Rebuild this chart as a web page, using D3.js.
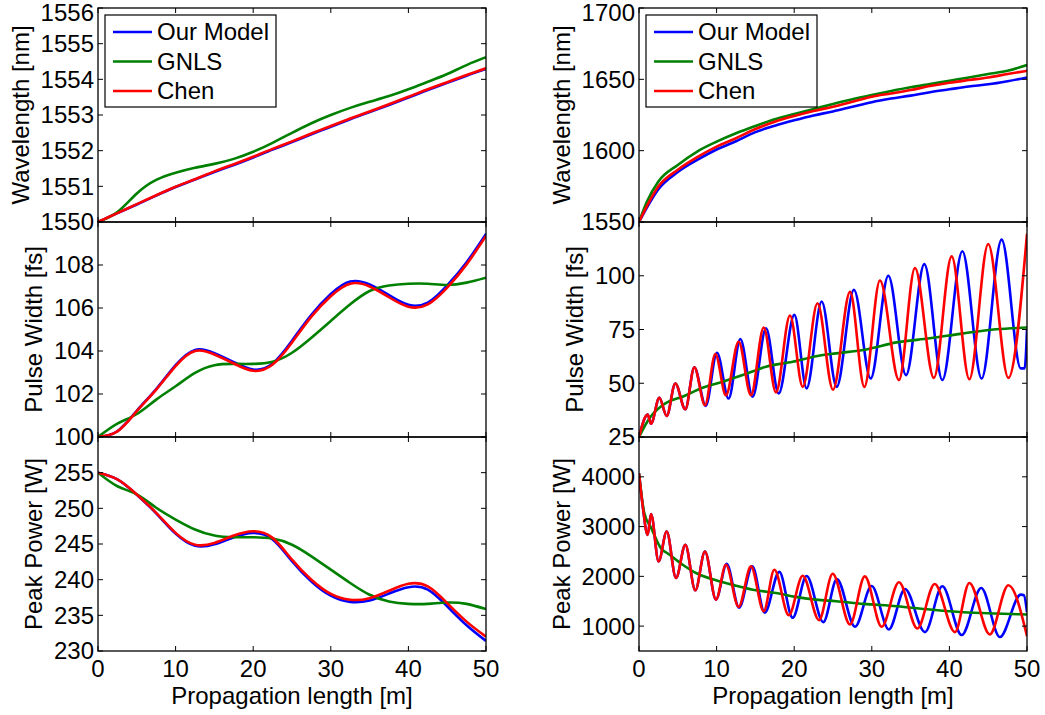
<!DOCTYPE html>
<html>
<head>
<meta charset="utf-8">
<script src="https://cdn.jsdelivr.net/npm/d3@7"></script>
<style>
  body { margin: 0; background: #fff; }
  text { font-family: "Liberation Sans", Arial, Helvetica, sans-serif; fill: #000; }
</style>
</head>
<body>
<svg id="chart" width="1045" height="715"></svg>
<script>
// ---- data ----
const seriesNames = ["Our Model", "GNLS", "Chen"];
const seriesColors = ["#0000ff", "#008000", "#ff0000"];
const xTicks = [0, 10, 20, 30, 40, 50];

// left column: sampled every 2.5 m
const xsLeft = [0, 2.5, 5, 7.5, 10, 12.5, 15, 17.5, 20, 22.5, 25, 27.5, 30, 32.5, 35, 37.5, 40, 42.5, 45, 47.5, 50];

const wlModelL = [1550, 1550.25, 1550.49, 1550.74, 1550.98, 1551.19, 1551.4, 1551.6, 1551.81, 1552.03, 1552.24, 1552.46, 1552.67, 1552.88, 1553.08, 1553.28, 1553.49, 1553.7, 1553.9, 1554.1, 1554.29];
const wlGnlsL  = [1550, 1550.28, 1550.8, 1551.18, 1551.38, 1551.52, 1551.63, 1551.77, 1551.97, 1552.22, 1552.5, 1552.77, 1553.0, 1553.2, 1553.37, 1553.53, 1553.72, 1553.93, 1554.15, 1554.4, 1554.62];
const wlChenL  = [1550, 1550.25, 1550.5, 1550.75, 1550.99, 1551.2, 1551.42, 1551.62, 1551.83, 1552.05, 1552.26, 1552.48, 1552.69, 1552.9, 1553.1, 1553.3, 1553.51, 1553.72, 1553.92, 1554.12, 1554.31];

const pwModelL = [100.0, 100.27, 101.22, 102.23, 103.34, 104.05, 103.9, 103.48, 103.14, 103.42, 104.48, 105.68, 106.65, 107.23, 107.1, 106.6, 106.15, 106.25, 107.05, 108.13, 109.45];
const pwGnlsL  = [100.0, 100.62, 101.07, 101.74, 102.36, 102.98, 103.34, 103.4, 103.4, 103.5, 103.92, 104.62, 105.4, 106.17, 106.79, 107.05, 107.13, 107.13, 107.07, 107.18, 107.41];
const pwChenL  = [100.0, 100.26, 101.2, 102.2, 103.3, 104.0, 103.84, 103.42, 103.08, 103.37, 104.4, 105.6, 106.55, 107.13, 107.0, 106.5, 106.06, 106.17, 106.95, 108.03, 109.35];

const ppModelL = [255, 254.05, 251.9, 249.3, 246.45, 244.75, 244.95, 245.95, 246.55, 245.65, 242.6, 239.75, 237.75, 236.88, 237.08, 238.05, 238.95, 238.6, 236.25, 233.6, 231.4];
const ppGnlsL  = [255, 253.1, 251.95, 250.08, 248.43, 247.03, 246.18, 245.95, 245.95, 245.76, 244.9, 243.27, 241.4, 239.53, 237.88, 236.94, 236.61, 236.61, 236.8, 236.61, 235.87];
const ppChenL  = [255, 254.06, 251.95, 249.37, 246.56, 244.9, 245.15, 246.18, 246.79, 245.86, 242.8, 239.99, 238.0, 237.18, 237.41, 238.44, 239.43, 239.05, 236.71, 234.12, 232.0];

// right column wavelength
const xsWlRight = [0, 1, 2.5, 5, 7.5, 10, 12.5, 15, 17.5, 20, 22.5, 25, 27.5, 30, 32.5, 35, 37.5, 40, 42.5, 45, 47.5, 50];
const wlModelR = [1550, 1560, 1573, 1585, 1593.5, 1600.8, 1606.6, 1613, 1617.5, 1621.3, 1624.7, 1627.5, 1630.8, 1634, 1636.5, 1638.6, 1641, 1643, 1645, 1646.5, 1648.7, 1651.3];
const wlGnlsR  = [1550, 1564, 1578.4, 1590, 1599.4, 1606.3, 1612.2, 1617.3, 1622, 1625.7, 1629.2, 1632.7, 1636, 1639, 1641.8, 1644.4, 1646.7, 1649, 1651.3, 1653.7, 1656, 1660];
const wlChenR  = [1550, 1561, 1574.9, 1586.6, 1595.4, 1602.8, 1608.7, 1615.2, 1620.3, 1624.3, 1627.8, 1630.8, 1634.3, 1637.8, 1640.1, 1642.5, 1645.3, 1647.6, 1649.5, 1651.3, 1653.7, 1656];

// right column pulse width / peak power: [length, value] at turning points
const pwModelR = [[0,25],[1.12,35.4],[1.55,31.2],[2.62,43.2],[3.57,34.8],[4.68,49.9],[5.97,37.9],[7.13,57.4],[8.6,39.5],[10.05,64.2],[11.55,42.9],[13.06,70.6],[14.65,43.7],[16.37,75.6],[18.0,45.2],[20.02,81.8],[21.6,47.6],[23.54,88.0],[25.47,48.3],[27.7,93.5],[29.85,52.2],[32.13,100],[34.41,53.8],[36.77,105.4],[39.09,51.5],[41.67,111.4],[44.15,52.2],[46.73,116.8],[49.2,56.9],[49.7,56.9],[50,75]];
const pwGnlsR  = [[0,25],[1.33,33.6],[3.05,39.8],[5.84,44.1],[8.2,47.9],[10.78,50.7],[13.36,53.8],[16.37,57.7],[19.8,60],[23.0,62.7],[25.4,63.9],[28.9,65.5],[33.2,69],[37.5,70.9],[41.8,73.2],[46.0,75.1],[50,75.9]];
const pwChenR  = [[0,25],[1.12,35.4],[1.55,31.2],[2.62,43.2],[3.57,34.8],[4.68,49.9],[5.97,37.9],[7.13,57.4],[8.5,39.8],[9.84,63.6],[11.2,44.4],[12.84,69.3],[14.43,44.4],[16.07,75.9],[17.65,45.7],[19.46,81.5],[21.1,48.3],[23.0,87.2],[25.0,47.0],[27.2,92.5],[29.04,48.3],[31.05,97.8],[33.5,51.5],[35.56,103.6],[38.0,52.5],[40.29,109.0],[42.57,51.9],[45.0,114.8],[47.6,52.5],[50,119.5]];

const ppModelR = [[0,4070],[0.45,3450],[1.12,2833],[1.55,3253],[2.53,2300],[3.57,2900],[4.77,1967],[5.97,2633],[7.26,1720],[8.5,2500],[9.92,1533],[11.3,2250],[12.9,1370],[14.6,2200],[16.2,1270],[18.08,2090],[19.8,1167],[21.6,2007],[23.75,1080],[25.5,1945],[27.84,987],[29.98,1805],[32.2,933],[34.28,1747],[36.85,880],[39.09,1800],[41.58,820],[44.1,1765],[46.5,780],[49.2,1633],[49.6,1620],[50,1280]];
const ppGnlsR  = [[0,4070],[0.69,3267],[1.55,2980],[2.84,2560],[3.8,2450],[5.63,2233],[7.35,2067],[9.92,1920],[12.5,1813],[15.08,1720],[17.65,1667],[20.2,1587],[22.8,1533],[25.4,1500],[28.9,1447],[33.2,1400],[37.5,1333],[41.8,1280],[46.0,1253],[50,1233]];
const ppChenR  = [[0,4070],[0.45,3450],[1.12,2833],[1.55,3253],[2.53,2300],[3.57,2900],[4.77,1967],[5.97,2633],[7.26,1720],[8.5,2500],[9.92,1533],[11.2,2233],[12.84,1387],[14.43,2200],[16.07,1300],[17.44,2133],[19.3,1220],[21.1,2013],[23.2,1120],[24.96,2053],[27.19,1033],[29.1,2000],[31.27,987],[33.5,1880],[35.87,953],[38.1,1847],[40.72,880],[42.57,1867],[45.2,833],[47.6,1820],[50,800]];

// ---- layout ----
const cols = [{ x0: 98, x1: 486 }, { x0: 639, x1: 1027 }];
const rows = [{ y0: 8, y1: 222 }, { y0: 222, y1: 437 }, { y0: 437, y1: 651 }];
const FONT = 24;

const panels = [
  { col: 0, row: 0, domain: [1550, 1556], ticks: [1550, 1551, 1552, 1553, 1554, 1555, 1556], label: "Wavelength [nm]",
    data: [d3.zip(xsLeft, wlModelL), d3.zip(xsLeft, wlGnlsL), d3.zip(xsLeft, wlChenL)], curve: d3.curveNatural, legend: true },
  { col: 0, row: 1, domain: [100, 110], ticks: [100, 102, 104, 106, 108], label: "Pulse Width [fs]",
    data: [d3.zip(xsLeft, pwModelL), d3.zip(xsLeft, pwGnlsL), d3.zip(xsLeft, pwChenL)], curve: d3.curveNatural },
  { col: 0, row: 2, domain: [230, 260], ticks: [230, 235, 240, 245, 250, 255], label: "Peak Power [W]",
    data: [d3.zip(xsLeft, ppModelL), d3.zip(xsLeft, ppGnlsL), d3.zip(xsLeft, ppChenL)], curve: d3.curveNatural, xLabels: true },
  { col: 1, row: 0, domain: [1550, 1700], ticks: [1550, 1600, 1650, 1700], label: "Wavelength [nm]",
    data: [d3.zip(xsWlRight, wlModelR), d3.zip(xsWlRight, wlGnlsR), d3.zip(xsWlRight, wlChenR)], curve: d3.curveMonotoneX, legend: true },
  { col: 1, row: 1, domain: [25, 125], ticks: [25, 50, 75, 100], label: "Pulse Width [fs]",
    data: [pwModelR, pwGnlsR, pwChenR], curve: d3.curveMonotoneX },
  { col: 1, row: 2, domain: [500, 4800], ticks: [1000, 2000, 3000, 4000], label: "Peak Power [W]",
    data: [ppModelR, ppGnlsR, ppChenR], curve: d3.curveMonotoneX, xLabels: true }
];

const svg = d3.select("#chart");
svg.append("rect").attr("width", 1045).attr("height", 715).attr("fill", "#fff");

panels.forEach(function (p, i) {
  const c = cols[p.col], r = rows[p.row];
  const x = d3.scaleLinear().domain([0, 50]).range([c.x0, c.x1]);
  const y = d3.scaleLinear().domain(p.domain).range([r.y1, r.y0]);

  const clipId = "clip" + i;
  svg.append("clipPath").attr("id", clipId)
    .append("rect").attr("x", c.x0).attr("y", r.y0)
    .attr("width", c.x1 - c.x0).attr("height", r.y1 - r.y0);

  const g = svg.append("g");

  // lines
  const line = d3.line().x(d => x(d[0])).y(d => y(d[1])).curve(p.curve);
  g.append("g").attr("clip-path", "url(#" + clipId + ")")
    .selectAll("path").data(p.data).enter().append("path")
    .attr("d", line)
    .attr("fill", "none")
    .attr("stroke", (d, k) => seriesColors[k])
    .attr("stroke-width", 2.6)
    .attr("stroke-linejoin", "round");

  // inner ticks on all four sides
  const tl = 5;
  xTicks.forEach(function (t) {
    g.append("line").attr("x1", x(t)).attr("x2", x(t)).attr("y1", r.y1).attr("y2", r.y1 - tl).attr("stroke", "#000");
    g.append("line").attr("x1", x(t)).attr("x2", x(t)).attr("y1", r.y0).attr("y2", r.y0 + tl).attr("stroke", "#000");
  });
  p.ticks.forEach(function (t) {
    g.append("line").attr("x1", c.x0).attr("x2", c.x0 + tl).attr("y1", y(t)).attr("y2", y(t)).attr("stroke", "#000");
    g.append("line").attr("x1", c.x1).attr("x2", c.x1 - tl).attr("y1", y(t)).attr("y2", y(t)).attr("stroke", "#000");
  });

  // frame
  g.append("rect").attr("x", c.x0).attr("y", r.y0)
    .attr("width", c.x1 - c.x0).attr("height", r.y1 - r.y0)
    .attr("fill", "none").attr("stroke", "#000").attr("stroke-width", 1.3);

  // y tick labels
  let maxW = 0;
  p.ticks.forEach(function (t) {
    const ty = Math.max(y(t), 13);
    const tx = g.append("text").attr("x", c.x0 - 4).attr("y", ty).attr("dy", "0.35em")
      .attr("text-anchor", "end").style("font-size", FONT + "px").text(t);
    maxW = Math.max(maxW, tx.node().getComputedTextLength());
  });

  // y label
  const lx = c.x0 - 4 - maxW - 12;
  const ly = (r.y0 + r.y1) / 2;
  g.append("text").attr("transform", "translate(" + lx + "," + ly + ") rotate(-90)")
    .attr("text-anchor", "middle").style("font-size", FONT + "px").text(p.label);

  // x tick labels and title
  if (p.xLabels) {
    xTicks.forEach(function (t) {
      g.append("text").attr("x", x(t)).attr("y", 677).attr("text-anchor", "middle")
        .style("font-size", FONT + "px").text(t);
    });
    g.append("text").attr("x", (c.x0 + c.x1) / 2).attr("y", 704).attr("text-anchor", "middle")
      .style("font-size", FONT + "px").text("Propagation length [m]");
  }

  // legend
  if (p.legend) {
    const lg = g.append("g").attr("transform", "translate(" + (c.x0 + 7) + "," + 15 + ")");
    lg.append("rect").attr("width", 171).attr("height", 92)
      .attr("fill", "#fff").attr("stroke", "#000").attr("stroke-width", 1.2);
    seriesNames.forEach(function (name, k) {
      const cy = 17 + k * 29.5;
      lg.append("line").attr("x1", 8).attr("x2", 47).attr("y1", cy).attr("y2", cy)
        .attr("stroke", seriesColors[k]).attr("stroke-width", 2.6);
      lg.append("text").attr("x", 52).attr("y", cy).attr("dy", "0.35em")
        .style("font-size", FONT + "px").text(name);
    });
  }
});
</script>
</body>
</html>
